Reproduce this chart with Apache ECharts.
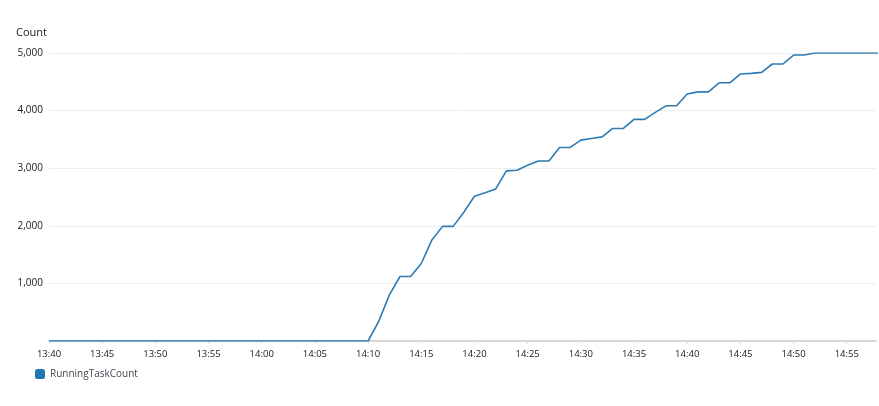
<!DOCTYPE html>
<html>
<head>
<meta charset="utf-8">
<script src="https://cdn.jsdelivr.net/npm/echarts@6/dist/echarts.min.js"></script>
<style>
html,body{margin:0;padding:0;background:#fff;}
#chart{width:879px;height:406px;}
</style>
</head>
<body>
<div id="chart"></div>
<script>
// One sample per minute, starting at 13:40
const startHour = 13;
const startMinute = 40;
const seriesName = 'RunningTaskCount';
const yTicks = [0, 1000, 2000, 3000, 4000, 5000];
const runningTaskCount = [
  0, 0, 0, 0, 0, 0, 0, 0, 0, 0,          // 13:40 - 13:49
  0, 0, 0, 0, 0, 0, 0, 0, 0, 0,          // 13:50 - 13:59
  0, 0, 0, 0, 0, 0, 0, 0, 0, 0,          // 14:00 - 14:09
  0, 340, 800, 1120, 1120, 1345, 1755, 1990, 1990, 2235,      // 14:10 - 14:19
  2513, 2575, 2640, 2953, 2965, 3050, 3125, 3125, 3360, 3360,  // 14:20 - 14:29
  3487, 3516, 3544, 3690, 3690, 3847, 3847, 3969, 4083, 4083,  // 14:30 - 14:39
  4287, 4325, 4325, 4483, 4483, 4635, 4647, 4664, 4809, 4809,  // 14:40 - 14:49
  4965, 4965, 5000, 5000, 5000, 5000, 5000, 5000, 5000         // 14:50 - 14:58
];

function minuteLabel(m) {
  const total = startHour * 60 + startMinute + Math.round(m);
  const h = Math.floor(total / 60), mm = total % 60;
  return String(h).padStart(2, '0') + ':' + String(mm).padStart(2, '0');
}

const data = runningTaskCount.map((v, i) => [i, v]);
const font = '"Open Sans", "Noto Sans", sans-serif';

const chart = echarts.init(document.getElementById('chart'), null, {renderer: 'canvas'});
chart.setOption({
  animation: false,
  textStyle: {fontFamily: font},
  title: {
    text: 'Count', left: 11, top: 22, padding: 5,
    textStyle: {fontSize: 11, fontWeight: 'normal', color: '#16191f', fontFamily: font}
  },
  grid: {left: 49, right: 3, top: 53, bottom: 65, containLabel: false},
  legend: {
    left: 30, top: 364, icon: 'roundRect', itemWidth: 10, itemHeight: 10, itemGap: 10,
    textStyle: {fontSize: 10, color: '#414750', fontFamily: font},
    data: [seriesName]
  },
  xAxis: {
    type: 'value', min: 0, max: 77.75, interval: 5,
    axisLine: {show: true, lineStyle: {color: '#d5d8d8', width: 2}},
    axisTick: {show: true, length: 3, lineStyle: {color: '#e2e4e4'}},
    splitLine: {show: false},
    axisLabel: {
      showMaxLabel: false, margin: 8, fontSize: 9.5, color: '#16191f', fontFamily: font,
      formatter: v => minuteLabel(v)
    }
  },
  yAxis: {
    type: 'value', min: yTicks[0], max: yTicks[yTicks.length - 1], interval: 1000,
    axisLine: {show: false}, axisTick: {show: false},
    splitLine: {lineStyle: {color: '#eceeee', width: 1}},
    axisLabel: {
      margin: 6, fontSize: 10, color: '#16191f', fontFamily: font,
      formatter: v => v === 0 ? '' : v.toLocaleString('en-US')
    }
  },
  series: [{
    name: seriesName, type: 'line', data: data,
    showSymbol: false, symbol: 'none',
    lineStyle: {color: '#2e7bb4', width: 1.6},
    itemStyle: {color: '#1f77b4'}
  }]
});
</script>
</body>
</html>
